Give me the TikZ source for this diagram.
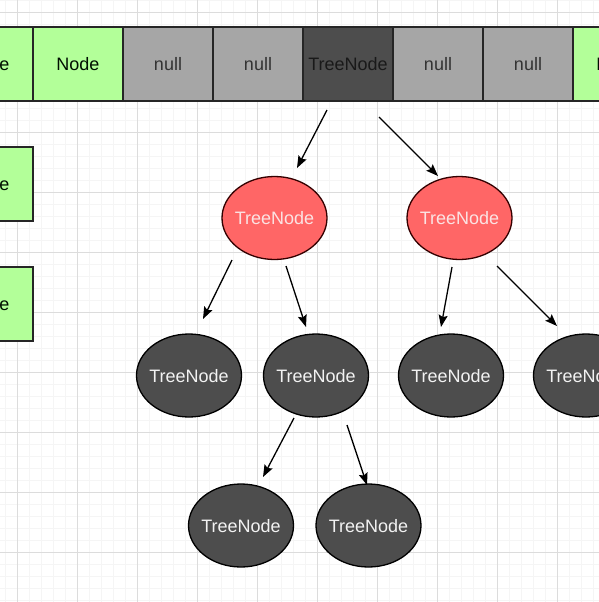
\documentclass[tikz,border=0pt]{standalone}
\usepackage{fontspec}
\setmainfont{Liberation Sans}
\usetikzlibrary{shapes.geometric,arrows.meta}
\definecolor{cgreen}{HTML}{B3FF99}
\definecolor{cgray}{HTML}{A6A6A6}
\definecolor{cdark}{HTML}{4D4D4D}
\definecolor{cred}{HTML}{FF6666}
\definecolor{credtxt}{HTML}{FBE3E3}
\definecolor{gmajor}{HTML}{DCDCDC}
\definecolor{gminor}{HTML}{F5F5F5}
\tikzset{
  txt/.style={font=\fontsize{18}{20}\selectfont},
  cell/.style={txt,draw=black!85,line width=1.3pt,minimum width=90pt,minimum height=74pt,inner sep=0pt},
  greencell/.style={cell,fill=cgreen,text=black!85!green!40!black},
  nullcell/.style={cell,fill=cgray,text=black!80},
  darkcell/.style={cell,fill=cdark,text=black!90},
  ellbase/.style={ellipse,line width=1.3pt,minimum width=105pt,minimum height=83pt,inner sep=0pt},
  redell/.style={ellbase,draw=black!80!red,fill=cred,label={[txt,text=credtxt]center:#1}},
  darkell/.style={ellbase,draw=black,fill=cdark,label={[txt,text=white!95!black,yshift=-1pt]center:#1}},
  arr/.style={line width=1.3pt,-{Stealth[length=12pt,width=9pt,inset=2pt]}}
}
\begin{document}
\begin{tikzpicture}[x=1pt,y=-1pt]
\useasboundingbox (0,0) rectangle (599,602);
\clip (0,0) rectangle (599,602);
\fill[white] (0,0) rectangle (599,602);
% grid
\foreach \i in {0,...,50} {
  \draw[gminor,line width=0.6pt] ({5+12*\i},0) -- ({5+12*\i},602);
  \draw[gminor,line width=0.6pt] (0,{12*\i}) -- (599,{12*\i});
}
\foreach \i in {0,...,10} {
  \draw[gmajor,line width=0.8pt] ({17+60*\i},0) -- ({17+60*\i},602);
  \draw[gmajor,line width=0.8pt] (0,{12+60*\i}) -- (599,{12+60*\i});
}
% top row
\node[greencell] (c0) at (-12,64) {Node};
\node[greencell] (c1) at (78,64) {Node};
\node[nullcell] (c2) at (168,64) {null};
\node[nullcell] (c3) at (258,64) {null};
\node[darkcell] (c4) at (348,64) {TreeNode};
\node[nullcell] (c5) at (438,64) {null};
\node[nullcell] (c6) at (528,64) {null};
\node[greencell] (c7) at (618,64) {Node};
% left column
\node[greencell] (l1) at (-12,184) {Node};
\node[greencell] (l2) at (-12,304) {Node};
% red nodes
\node[redell=TreeNode] (r1) at (274.5,218) {};
\node[redell=TreeNode] (r2) at (459.5,218) {};
% dark nodes
\node[darkell=TreeNode] (d1) at (189,375.5) {};
\node[darkell=TreeNode] (d2) at (316,375.5) {};
\node[darkell=TreeNode] (d3) at (451,375.5) {};
\node[darkell=TreeNode] (d4) at (586,375.5) {};
\node[darkell=TreeNode] (d5) at (241,525.5) {};
\node[darkell=TreeNode] (d6) at (368.5,525.5) {};
% arrow endpoints
\coordinate (a1s) at (327,110); \coordinate (a1e) at (297,168);
\coordinate (a2s) at (379,117); \coordinate (a2e) at (438,176);
\coordinate (a3s) at (232,260); \coordinate (a3e) at (203,319);
\coordinate (a4s) at (286,266); \coordinate (a4e) at (306,327);
\coordinate (a5s) at (452,267); \coordinate (a5e) at (441,327);
\coordinate (a6s) at (497,266); \coordinate (a6e) at (557,326);
\coordinate (a7s) at (294,418); \coordinate (a7e) at (263,477);
\coordinate (a8s) at (347,425); \coordinate (a8e) at (367,485);
\draw[arr] (a1s) -- (a1e);
\draw[arr] (a2s) -- (a2e);
\draw[arr] (a3s) -- (a3e);
\draw[arr] (a4s) -- (a4e);
\draw[arr] (a5s) -- (a5e);
\draw[arr] (a6s) -- (a6e);
\draw[arr] (a7s) -- (a7e);
\draw[arr] (a8s) -- (a8e);
\end{tikzpicture}
\end{document}
